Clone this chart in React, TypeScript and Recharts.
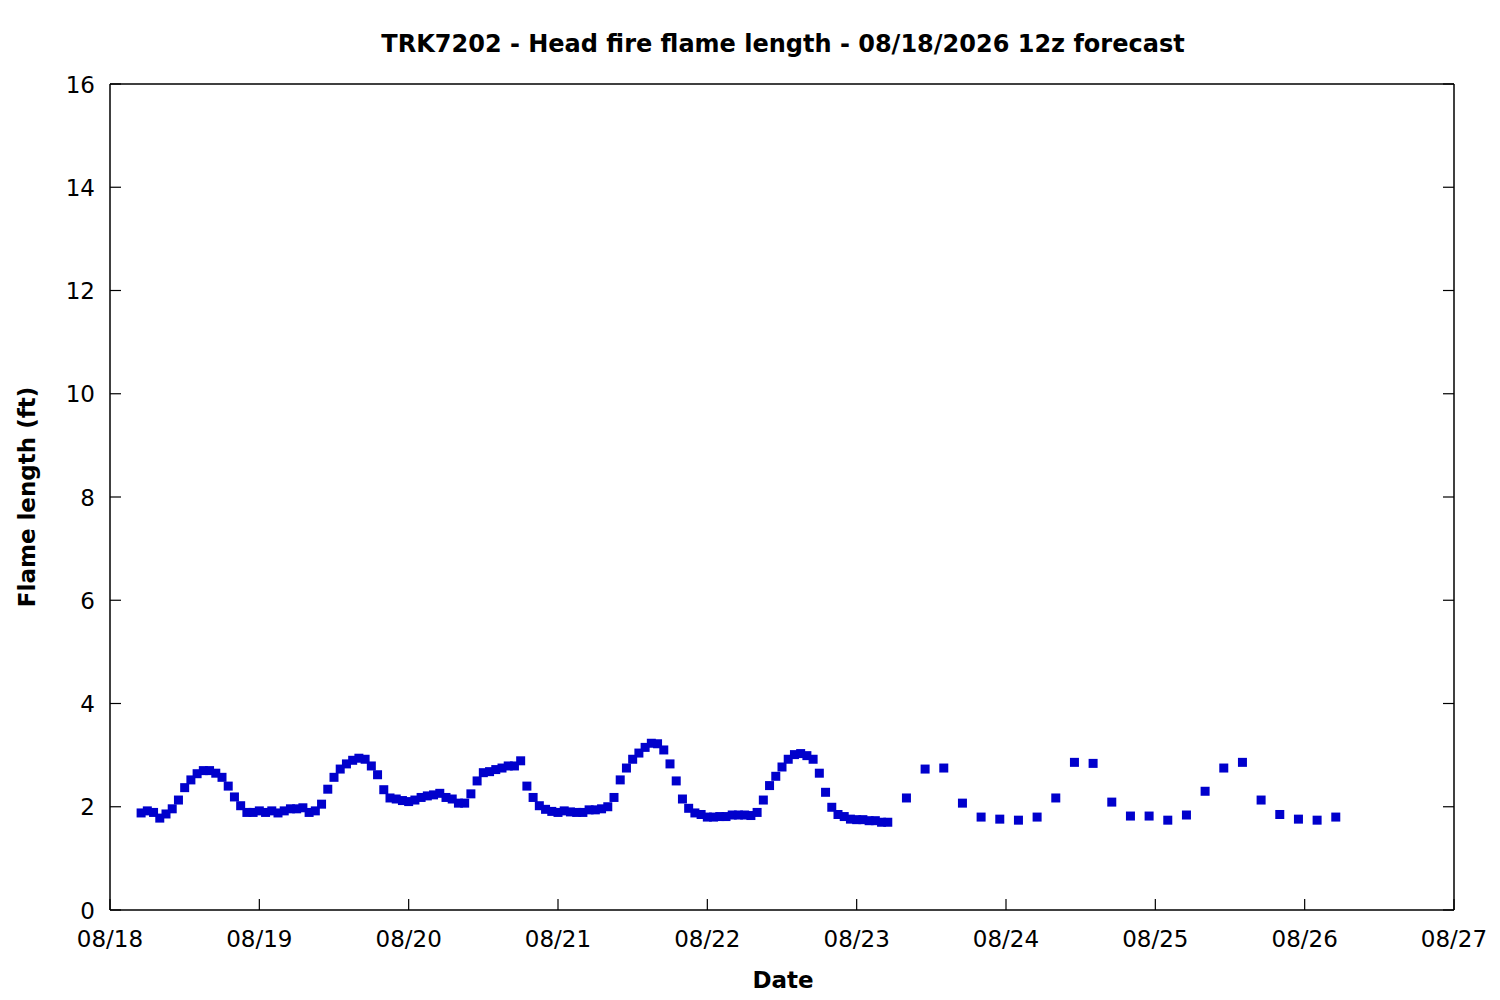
import React from "react";
import { ScatterChart, Scatter, XAxis, YAxis } from "recharts";

// hourly forecast, starting 08/18 05h
const hourlyStart = 5;
const hourlyFlame = [
  1.88, 1.92, 1.89, 1.78, 1.86, 1.96, 2.13, 2.37, 2.52, 2.64, 2.7, 2.7, 2.65, 2.57, 2.4, 2.19,
  2.02, 1.89, 1.89, 1.92, 1.89, 1.92, 1.88, 1.92, 1.96, 1.96, 1.98, 1.89, 1.92, 2.05, 2.34, 2.57,
  2.73, 2.83, 2.9, 2.94, 2.92, 2.79, 2.62, 2.33, 2.17, 2.15, 2.12, 2.1, 2.13, 2.18, 2.21, 2.23,
  2.26, 2.18, 2.15, 2.07, 2.07, 2.25, 2.5, 2.66, 2.68, 2.72, 2.75, 2.79, 2.79, 2.89, 2.4, 2.18,
  2.02, 1.95, 1.91, 1.89, 1.92, 1.9, 1.89, 1.89, 1.94, 1.94, 1.96, 2.0, 2.18, 2.52, 2.75, 2.92,
  3.04, 3.15, 3.23, 3.22, 3.1, 2.83, 2.5, 2.15, 1.97, 1.88, 1.85, 1.8, 1.8, 1.81, 1.81, 1.84,
  1.84, 1.84, 1.83, 1.89, 2.13, 2.41, 2.59, 2.77, 2.92, 3.01, 3.03, 2.99, 2.92, 2.65, 2.28, 1.99,
  1.85, 1.81, 1.76, 1.75, 1.75, 1.73, 1.73, 1.7, 1.7,
];

// 3-hourly forecast after that
const threeHourlyStart = 128;
const threeHourlyStep = 3;
const threeHourlyFlame = [
  2.17, 2.73, 2.75, 2.07, 1.8, 1.76, 1.74, 1.8, 2.17, 2.86, 2.84, 2.09, 1.82, 1.82, 1.74, 1.84,
  2.3, 2.75, 2.86, 2.13, 1.85, 1.76, 1.74, 1.8,
];

const dayTicks = [0, 24, 48, 72, 96, 120, 144, 168, 192, 216];
const dayLabels = ["08/18", "08/19", "08/20", "08/21", "08/22", "08/23", "08/24", "08/25", "08/26", "08/27"];
const flameTicks = [0, 2, 4, 6, 8, 10, 12, 14, 16];

const points = [
  ...hourlyFlame.map((v, i) => ({ hour: hourlyStart + i, flame: v })),
  ...threeHourlyFlame.map((v, i) => ({ hour: threeHourlyStart + i * threeHourlyStep, flame: v })),
];

const FONT = "DejaVu Sans";
const TICK_LEN = 11;

const BottomTick = (props: any) => {
  const { x, y, payload } = props;
  const label = dayLabels[dayTicks.indexOf(payload.value)];
  return (
    <g>
      <line x1={x} x2={x} y1={y} y2={y - TICK_LEN} stroke="#000" strokeWidth={1.2} />
      <text x={x} y={y + 36.5} textAnchor="middle" fontSize={23} fontFamily={FONT} fill="#000">
        {label}
      </text>
    </g>
  );
};

const TopTick = (props: any) => {
  const { x, y } = props;
  return <line x1={x} x2={x} y1={y} y2={y + TICK_LEN} stroke="#000" strokeWidth={1.2} />;
};

const LeftTick = (props: any) => {
  const { x, y, payload } = props;
  return (
    <g>
      <line x1={x} x2={x + TICK_LEN} y1={y} y2={y} stroke="#000" strokeWidth={1.2} />
      <text x={x - 15} y={y + 8.5} textAnchor="end" fontSize={23} fontFamily={FONT} fill="#000">
        {payload.value}
      </text>
    </g>
  );
};

const RightTick = (props: any) => {
  const { x, y } = props;
  return <line x1={x} x2={x - TICK_LEN} y1={y} y2={y} stroke="#000" strokeWidth={1.2} />;
};

const SquareMark = (props: any) => {
  const { cx, cy } = props;
  return <rect x={cx - 4.5} y={cy - 4.5} width={9} height={9} fill="#0000cc" />;
};

const axisLine = { stroke: "#000", strokeWidth: 1.5 };

export default function App() {
  return (
    <div style={{ position: "absolute", left: 0, top: 0, width: 1500, height: 1000, background: "#fff" }}>
      <ScatterChart width={1500} height={1000} margin={{ top: 64, right: 26, bottom: 50, left: 50 }}>
        <XAxis
          dataKey="hour"
          type="number"
          domain={[0, 216]}
          ticks={dayTicks}
          interval={0}
          height={40}
          tickSize={0}
          tickMargin={0}
          tickLine={false}
          axisLine={axisLine}
          tick={(p: any) => <BottomTick {...p} />}
          allowDataOverflow
        />
        <XAxis
          xAxisId="top"
          orientation="top"
          type="number"
          domain={[0, 216]}
          ticks={dayTicks}
          interval={0}
          height={20}
          tickSize={0}
          tickMargin={0}
          tickLine={false}
          axisLine={axisLine}
          tick={(p: any) => <TopTick {...p} />}
          allowDataOverflow
        />
        <YAxis
          dataKey="flame"
          type="number"
          domain={[0, 16]}
          ticks={flameTicks}
          interval={0}
          width={60}
          tickSize={0}
          tickMargin={0}
          tickLine={false}
          axisLine={axisLine}
          tick={(p: any) => <LeftTick {...p} />}
          allowDataOverflow
        />
        <YAxis
          yAxisId="right"
          orientation="right"
          type="number"
          domain={[0, 16]}
          ticks={flameTicks}
          interval={0}
          width={20}
          tickSize={0}
          tickMargin={0}
          tickLine={false}
          axisLine={axisLine}
          tick={(p: any) => <RightTick {...p} />}
          allowDataOverflow
        />
        <Scatter data={points} shape={SquareMark} isAnimationActive={false} />
      </ScatterChart>
      <svg
        width={1500}
        height={1000}
        style={{ position: "absolute", left: 0, top: 0, pointerEvents: "none" }}
      >
        <text x={783} y={51.5} textAnchor="middle" fontSize={24} fontWeight="bold" fontFamily={FONT} fill="#000">
          TRK7202 - Head fire flame length - 08/18/2026 12z forecast
        </text>
        <text x={783} y={988} textAnchor="middle" fontSize={23} fontWeight="bold" fontFamily={FONT} fill="#000">
          Date
        </text>
        <text
          x={0}
          y={0}
          transform="translate(35,497) rotate(-90)"
          textAnchor="middle"
          fontSize={23}
          fontWeight="bold"
          fontFamily={FONT}
          fill="#000"
        >
          Flame length (ft)
        </text>
      </svg>
    </div>
  );
}
